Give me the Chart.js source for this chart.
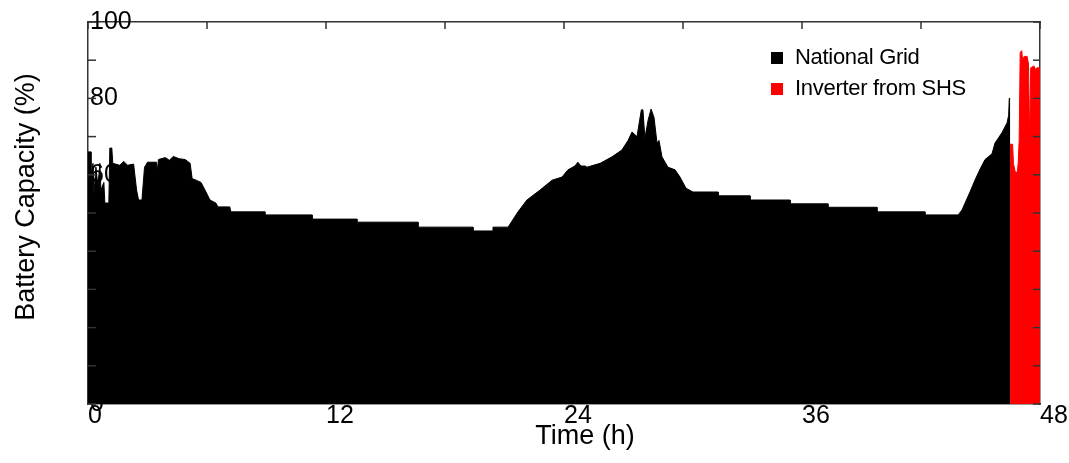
<!DOCTYPE html>
<html>
<head>
<meta charset="utf-8">
<script src="https://cdn.jsdelivr.net/npm/chart.js@4.4.1/dist/chart.umd.min.js"></script>
<style>
  html, body { margin: 0; padding: 0; background: #fff; }
  #wrap { position: relative; width: 1069px; height: 463px; }
  #legend { position: absolute; left: 771px; top: 41px; font-family: "Liberation Sans", Arial, sans-serif; font-size: 22px; color: #000; letter-spacing: -0.3px; }
  #legend .row { display: flex; align-items: center; height: 31px; line-height: 31px; white-space: nowrap; }
  #legend .box { width: 12px; height: 12px; margin-right: 12px; margin-top: 3px; flex: none; }
</style>
</head>
<body>
<div id="wrap">
  <canvas id="c" width="1069" height="463"></canvas>
  <div id="legend"></div>
</div>
<script>
// ---- data ----
const seriesNames = ['National Grid', 'Inverter from SHS'];
const seriesColors = ['#000000', '#ff0000'];
const xTitle = 'Time (h)';
const yTitle = 'Battery Capacity (%)';

const gridTime = [0, 0.15, 0.15, 0.25, 0.3, 0.4, 0.5, 0.6, 0.65, 0.8, 0.85, 1.05, 1.1, 1.2, 1.25, 1.6, 1.8, 2.0, 2.3, 2.45, 2.55, 2.72, 2.85, 3.0, 3.45, 3.5, 3.55, 3.9, 4.1, 4.3, 4.6, 4.9, 5.15, 5.25, 5.45, 5.7, 5.95, 6.15, 6.45, 6.55, 7.15, 7.2, 8.92, 8.92, 11.3, 11.3, 13.56, 13.56, 16.64, 16.64, 19.41, 19.41, 20.42, 20.42, 21.18, 21.68, 22.13, 22.79, 23.4, 23.9, 24.2, 24.55, 24.7, 24.85, 25.06, 25.16, 25.82, 26.42, 26.92, 27.23, 27.43, 27.68, 27.9, 27.98, 28.08, 28.24, 28.39, 28.54, 28.69, 28.79, 28.94, 29.24, 29.6, 29.85, 30.15, 30.5, 31.77, 31.77, 33.38, 33.38, 35.4, 35.4, 37.31, 37.31, 39.78, 39.78, 42.2, 42.2, 43.87, 44.07, 44.22, 44.47, 44.72, 44.98, 45.23, 45.58, 45.73, 46.08, 46.34, 46.42, 46.45, 46.5];
const gridCapacity = [66, 66, 58, 63, 55, 62, 57, 63, 56, 58, 52.6, 52.6, 67, 67, 63, 62.5, 63.5, 62.5, 62.8, 56, 53.4, 53.4, 62, 63.3, 63.3, 61, 64, 64.5, 63.8, 64.8, 64.2, 64, 63, 59, 58.6, 58, 55.5, 53.4, 52.6, 51.6, 51.6, 50.3, 50.3, 49.5, 49.5, 48.4, 48.4, 47.6, 47.6, 46.3, 46.3, 45.3, 45.3, 46.3, 46.3, 50.3, 53.4, 56, 58.6, 59.4, 61.3, 62.3, 63.3, 62.3, 62.3, 62, 63, 64.7, 66.5, 69, 71.2, 70, 77, 77, 69.6, 74.3, 77.2, 75, 68.3, 69, 64.7, 62, 61.3, 59.4, 56.5, 55.5, 55.5, 54.5, 54.5, 53.4, 53.4, 52.4, 52.4, 51.5, 51.5, 50.3, 50.3, 49.5, 49.5, 50.8, 52.6, 55.5, 58.6, 61.5, 64, 65.5, 68.3, 71, 73.6, 75.6, 80, 80];

const shsTime = [46.49, 46.62, 46.66, 46.74, 46.8, 46.86, 46.9, 46.95, 47.0, 47.08, 47.12, 47.2, 47.35, 47.42, 47.48, 47.53, 47.7, 47.78, 47.85, 48.0];
const shsCapacity = [68, 68, 63, 61, 60.4, 61, 63, 69, 92, 92.5, 90, 91, 91, 89, 69, 88, 88.5, 87.5, 88, 88];

const timeLabels = [0, 12, 24, 36, 48];
const timeMinor = [0, 6, 12, 18, 24, 30, 36, 42, 48];
const capacityLabels = [0, 20, 40, 60, 80, 100];
const capacityMinor = [0, 10, 20, 30, 40, 50, 60, 70, 80, 90, 100];

// ---- chart ----
const FONT = '"Liberation Sans", Arial, sans-serif';
const axisColor = '#333333';

const toPoints = (xs, ys) => xs.map((x, i) => ({ x: x, y: ys[i] }));
const setTicks = (vals) => (scale) => { scale.ticks = vals.map(v => ({ value: v })); };

// inward tick marks on left / right / top frame, drawn through the scales
const innerTicks = {
  id: 'innerTicks',
  afterDatasetsDraw(chart) {
    const { ctx, chartArea: a, scales } = chart;
    ctx.save();
    ctx.strokeStyle = axisColor;
    ctx.lineWidth = 1.5;
    const seg = (x1, y1, x2, y2) => { ctx.beginPath(); ctx.moveTo(x1, y1); ctx.lineTo(x2, y2); ctx.stroke(); };
    scales.y2.ticks.forEach(t => {
      const p = scales.y2.getPixelForValue(t.value);
      seg(a.left, p, a.left + 8, p);
      seg(a.right - 7, p, a.right, p);
    });
    scales.x2.ticks.forEach(t => {
      const p = scales.x2.getPixelForValue(t.value);
      seg(p, a.top, p, a.top + 7);
    });
    ctx.restore();
  }
};

// axis titles, placed relative to the chart area like the reference
const axisTitles = {
  id: 'axisTitles',
  afterDraw(chart) {
    const { ctx, chartArea: a } = chart;
    ctx.save();
    ctx.fillStyle = '#000';
    ctx.font = '27px ' + FONT;
    ctx.textAlign = 'center';
    ctx.textBaseline = 'middle';
    ctx.fillText(xTitle, (a.left + a.right) / 2 + 21, a.bottom + 33);
    ctx.translate(27, (a.top + a.bottom) / 2 - 16);
    ctx.rotate(-Math.PI / 2);
    ctx.fillText(yTitle, 0, 0);
    ctx.restore();
  }
};

const chart = new Chart(document.getElementById('c'), {
  type: 'line',
  data: {
    datasets: [
      {
        label: seriesNames[0],
        data: toPoints(gridTime, gridCapacity),
        borderColor: seriesColors[0],
        backgroundColor: seriesColors[0],
        borderWidth: 1,
        pointRadius: 0,
        fill: 'origin',
        tension: 0
      },
      {
        label: seriesNames[1],
        data: toPoints(shsTime, shsCapacity),
        borderColor: seriesColors[1],
        backgroundColor: seriesColors[1],
        borderWidth: 1,
        pointRadius: 0,
        fill: 'origin',
        tension: 0
      }
    ]
  },
  options: {
    responsive: false,
    animation: false,
    devicePixelRatio: 1,
    layout: { padding: { top: 22, right: 29, left: 0, bottom: 0 } },
    plugins: { legend: { display: false }, tooltip: { enabled: false } },
    scales: {
      x: {
        type: 'linear', position: 'bottom', min: 0, max: 48,
        afterBuildTicks: setTicks(timeLabels),
        afterFit: (s) => { s.height = 59; s.paddingLeft = 0; s.paddingRight = 0; },
        grid: { display: false, drawTicks: false },
        border: { display: true, color: axisColor, width: 1.5 },
        ticks: { align: 'start', padding: 0, color: '#000', maxRotation: 0, autoSkip: false,
                 font: { family: FONT, size: 25, lineHeight: 1 } },
        title: { display: false, text: xTitle }
      },
      x2: {
        type: 'linear', position: 'top', min: 0, max: 48,
        afterBuildTicks: setTicks(timeMinor),
        afterFit: (s) => { s.height = 0; s.paddingLeft = 0; s.paddingRight = 0; },
        grid: { display: false, drawTicks: false },
        border: { display: true, color: axisColor, width: 1.5 },
        ticks: { display: false }
      },
      y: {
        type: 'linear', position: 'left', min: 0, max: 100,
        afterBuildTicks: setTicks(capacityLabels),
        afterFit: (s) => { s.width = 88; s.paddingTop = 0; s.paddingBottom = 0; },
        grid: { display: false, drawTicks: false },
        border: { display: true, color: axisColor, width: 1.5 },
        ticks: { mirror: true, padding: 2, color: '#000',
                 font: { family: FONT, size: 25, lineHeight: 1 } },
        title: { display: false, text: yTitle }
      },
      y2: {
        type: 'linear', position: 'right', min: 0, max: 100,
        afterBuildTicks: setTicks(capacityMinor),
        afterFit: (s) => { s.width = 0; s.paddingTop = 0; s.paddingBottom = 0; },
        grid: { display: false, drawTicks: false },
        border: { display: true, color: axisColor, width: 1.5 },
        ticks: { display: false }
      }
    }
  },
  plugins: [innerTicks, axisTitles]
});

// HTML legend built from the chart's datasets
const legendEl = document.getElementById('legend');
chart.data.datasets.forEach(ds => {
  const row = document.createElement('div');
  row.className = 'row';
  const box = document.createElement('span');
  box.className = 'box';
  box.style.background = ds.backgroundColor;
  const txt = document.createElement('span');
  txt.textContent = ds.label;
  row.appendChild(box);
  row.appendChild(txt);
  legendEl.appendChild(row);
});
</script>
</body>
</html>
